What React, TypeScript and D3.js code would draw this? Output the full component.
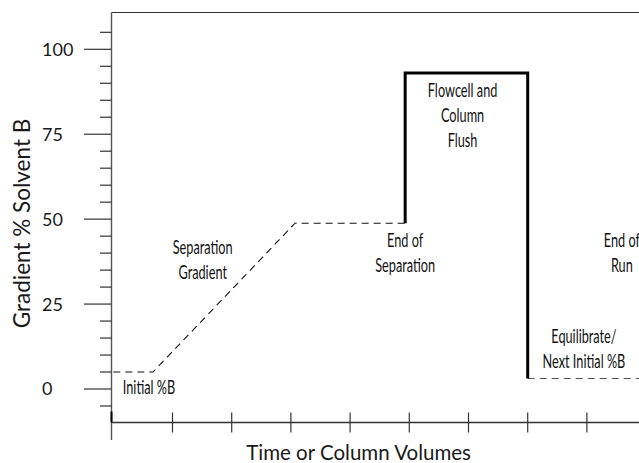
import React, { useEffect, useRef } from 'react';
import * as d3 from 'd3';

// gradient program, x in column volumes, y in % solvent B
const separationX = [0, 0.67, 3.07, 4.93];
const separationY = [5, 5, 48.8, 48.8];
const flushX = [4.93, 4.93, 7, 7];
const flushY = [48.8, 93, 93, 3.1];
const equilibrateX = [7, 9.2];
const equilibrateY = [3.1, 3.1];

const xTicks = [1, 2, 3, 4, 5, 6, 7, 8];
const yTicks = [0, 25, 50, 75, 100];
const yMinorTicks = [-5, 5, 10, 15, 20, 30, 35, 40, 45, 55, 60, 65, 70, 80, 85, 90, 95, 105];

const notes = [
  { lines: ['Initial %B'], x: 0.16, y: -1.5, anchor: 'start' },
  { lines: ['Separation', 'Gradient'], x: 1.51, y: 39.7, anchor: 'middle' },
  { lines: ['End of', 'Separation'], x: 4.93, y: 41.7, anchor: 'middle' },
  { lines: ['Flowcell and', 'Column', 'Flush'], x: 5.9, y: 85.9, anchor: 'middle' },
  { lines: ['End of', 'Run'], x: 8.59, y: 41.7, anchor: 'middle' },
  { lines: ['Equilibrate/', 'Next Initial %B'], x: 7.95, y: 13.6, anchor: 'middle' },
];

const GradientChart = () => {
  const chartRef = useRef(null);

  useEffect(() => {
    const width = 639;
    const height = 463;
    const axisX = 111.5;
    const axisY = 422.5;
    const top = 12.5;

    d3.select(chartRef.current).selectAll('*').remove();

    const svg = d3
      .select(chartRef.current)
      .append('svg')
      .attr('width', width)
      .attr('height', height)
      .style('position', 'absolute')
      .style('left', '0px')
      .style('top', '0px')
      .style('background', '#fff');

    const x = d3.scaleLinear().domain([0, 9]).range([113.3, 113.3 + 9 * 59.2]);
    const y = d3.scaleLinear().domain([0, 100]).range([389, 49.3]);

    const axisColor = '#333';
    const labelFont = "Lato, 'Open Sans', sans-serif";

    // frame: top line and y axis
    svg.append('line')
      .attr('x1', axisX).attr('x2', width)
      .attr('y1', top).attr('y2', top)
      .attr('stroke', axisColor).attr('stroke-width', 1.2);

    svg.append('line')
      .attr('x1', axisX).attr('x2', axisX)
      .attr('y1', top).attr('y2', 440)
      .attr('stroke', '#555').attr('stroke-width', 1.4);

    svg.append('line')
      .attr('x1', axisX).attr('x2', axisX)
      .attr('y1', 411.5).attr('y2', axisY)
      .attr('stroke', '#000').attr('stroke-width', 2);

    // y ticks
    svg.selectAll('line.ymajor')
      .data(yTicks)
      .enter()
      .append('line')
      .attr('class', 'ymajor')
      .attr('x1', 84).attr('x2', axisX)
      .attr('y1', d => y(d)).attr('y2', d => y(d))
      .attr('stroke', axisColor).attr('stroke-width', 1.2);

    svg.selectAll('line.yminor')
      .data(yMinorTicks)
      .enter()
      .append('line')
      .attr('class', 'yminor')
      .attr('x1', 100).attr('x2', axisX)
      .attr('y1', d => y(d)).attr('y2', d => y(d))
      .attr('stroke', axisColor).attr('stroke-width', 1.2);

    svg.selectAll('text.ylab')
      .data(yTicks)
      .enter()
      .append('text')
      .attr('class', 'ylab')
      .attr('x', 42)
      .attr('y', d => y(d))
      .attr('dy', '0.36em')
      .style('font-family', labelFont)
      .style('font-size', '18px')
      .style('fill', '#1a1a1a')
      .text(d => d);

    // x axis
    svg.append('line')
      .attr('x1', axisX).attr('x2', width)
      .attr('y1', axisY).attr('y2', axisY)
      .attr('stroke', axisColor).attr('stroke-width', 1.4);

    svg.selectAll('line.xtick')
      .data(xTicks)
      .enter()
      .append('line')
      .attr('class', 'xtick')
      .attr('x1', d => x(d)).attr('x2', d => x(d))
      .attr('y1', axisY - 10).attr('y2', axisY + 10)
      .attr('stroke', axisColor).attr('stroke-width', 1.2);

    svg.append('text')
      .attr('x', 358.6)
      .attr('y', 459.5)
      .attr('text-anchor', 'middle')
      .style('font-family', labelFont)
      .style('font-size', '20.5px')
      .style('fill', '#1a1a1a')
      .text('Time or Column Volumes');

    svg.append('text')
      .attr('transform', 'translate(30, 223.5) rotate(-90)')
      .attr('text-anchor', 'middle')
      .style('font-family', labelFont)
      .style('font-size', '22.5px')
      .style('fill', '#1a1a1a')
      .text('Gradient % Solvent B');

    // program lines
    const line = d3.line<[number, number]>()
      .x(d => x(d[0]))
      .y(d => y(d[1]));

    const zip = (xs: number[], ys: number[]) => xs.map((v, i) => [v, ys[i]] as [number, number]);

    svg.append('path')
      .attr('d', line(zip(separationX, separationY)))
      .attr('fill', 'none')
      .attr('stroke', '#111')
      .attr('stroke-width', 1.1)
      .attr('stroke-dasharray', '7,5');

    svg.append('path')
      .attr('d', line(zip(equilibrateX, equilibrateY)))
      .attr('fill', 'none')
      .attr('stroke', '#555')
      .attr('stroke-width', 1.1)
      .attr('stroke-dasharray', '7,5');

    svg.append('path')
      .attr('d', line(zip(flushX, flushY)))
      .attr('fill', 'none')
      .attr('stroke', '#000')
      .attr('stroke-width', 3)
      .attr('stroke-linejoin', 'miter');

    // annotations, condensed by squeezing horizontally
    notes.forEach(n => {
      const g = svg.append('g')
        .attr('transform', `translate(${x(n.x)},${y(n.y)}) scale(0.67,1)`);
      const t = g.append('text')
        .attr('x', 0)
        .attr('y', 0)
        .attr('text-anchor', n.anchor)
        .style('font-family', labelFont)
        .style('font-size', '19px')
        .style('fill', '#111');
      n.lines.forEach((l, i) => {
        t.append('tspan')
          .attr('x', 0)
          .attr('dy', i === 0 ? 0 : 25)
          .text(l);
      });
    });
  }, []);

  return <div ref={chartRef}></div>;
};

export default function App() {
  return <GradientChart />;
}
